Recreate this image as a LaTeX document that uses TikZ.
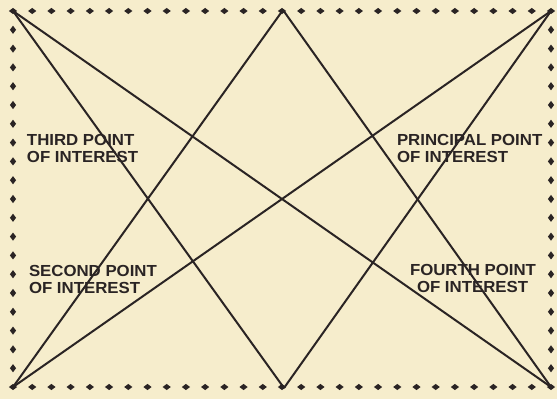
\documentclass[tikz,border=0pt]{standalone}
\usepackage{fontspec}
\setmainfont[FakeStretch=1.05]{Liberation Sans}
\usetikzlibrary{shapes.geometric}
\definecolor{paper}{RGB}{246,237,204}
\definecolor{ink}{RGB}{42,36,36}

\begin{document}
\begin{tikzpicture}[x=1pt, y=-1pt, line width=2pt, draw=ink,
    every node/.style={align=left, inner sep=0pt, text=ink, font=\bfseries\fontsize{16}{17}\selectfont},
    studh/.style={diamond, fill=ink, minimum width=9pt, minimum height=7pt},
    studv/.style={diamond, fill=ink, minimum width=7pt, minimum height=9pt}]
  \useasboundingbox[fill=paper] (0,0) rectangle (557,399);
  % corners and mid points of the frame
  \coordinate (tl) at (13,11);
  \coordinate (tr) at (551,11);
  \coordinate (bl) at (13,387);
  \coordinate (br) at (551,387);
  \coordinate (tm) at (283,10);
  \coordinate (bm) at (284,388);
  % dotted frame
  \foreach \i in {0,...,28} {
    \node[studh] (top\i) at ({13+\i*19.214},11) {};
    \node[studh] (bot\i) at ({13+\i*19.214},387) {};
  }
  \foreach \j in {1,...,19} {
    \node[studv] (lft\j) at (13,{11+\j*18.8}) {};
    \node[studv] (rgt\j) at (551,{11+\j*18.8}) {};
  }
  % lines of interest
  \draw (tl) -- (br);
  \draw (tr) -- (bl);
  \draw (tl) -- (bm);
  \draw (tr) -- (bm);
  \draw (tm) -- (bl);
  \draw (tm) -- (br);
  % labels
  \node[anchor=north west] (third) at (26,133) {THIRD POINT\\OF INTEREST};
  \node[anchor=north west] (principal) at (396,133) {PRINCIPAL POINT\\OF INTEREST};
  \node[anchor=north west] (second) at (28,264) {SECOND POINT\\OF INTEREST};
  \node[anchor=north west] (fourth) at (409,263) {FOURTH POINT\\\hspace{7pt}OF INTEREST};
\end{tikzpicture}
\end{document}
